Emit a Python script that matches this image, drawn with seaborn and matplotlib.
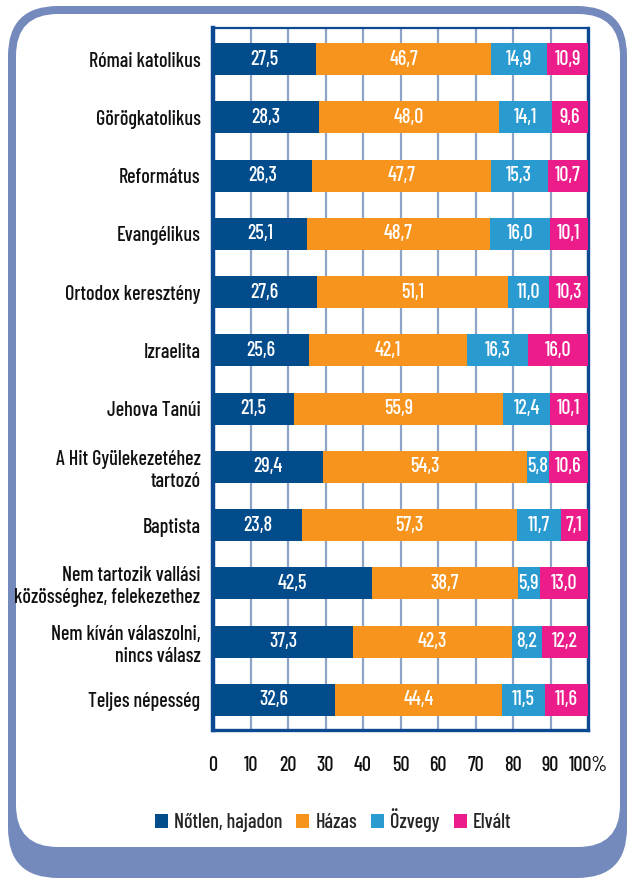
import matplotlib
matplotlib.use("Agg")
import matplotlib.pyplot as plt
from matplotlib.patches import FancyBboxPatch, Patch
import seaborn as sns
import numpy as np
import pandas as pd

categories = [
    "Római katolikus",
    "Görögkatolikus",
    "Református",
    "Evangélikus",
    "Ortodox keresztény",
    "Izraelita",
    "Jehova Tanúi",
    "A Hit Gyülekezetéhez\ntartozó",
    "Baptista",
    "Nem tartozik vallási\nközösséghez, felekezethez",
    "Nem kíván válaszolni,\nnincs válasz",
    "Teljes népesség",
]
notlen = [27.5, 28.3, 26.3, 25.1, 27.6, 25.6, 21.5, 29.4, 23.8, 42.5, 37.3, 32.6]
hazas = [46.7, 48.0, 47.7, 48.7, 51.1, 42.1, 55.9, 54.3, 57.3, 38.7, 42.3, 44.4]
ozvegy = [14.9, 14.1, 15.3, 16.0, 11.0, 16.3, 12.4, 5.8, 11.7, 5.9, 8.2, 11.5]
elvalt = [10.9, 9.6, 10.7, 10.1, 10.3, 16.0, 10.1, 10.6, 7.1, 13.0, 12.2, 11.6]
series_names = ["Nőtlen, hajadon", "Házas", "Özvegy", "Elvált"]
colors = ["#034C8C", "#F7941E", "#2A9BD0", "#EC1C8B"]
xticks = [0, 10, 20, 30, 40, 50, 60, 70, 80, 90, 100]
xticklabels = ["0", "10", "20", "30", "40", "50", "60", "70", "80", "90", "100%"]

sns.set_style("white")
FONT = ["Barlow Condensed", "DejaVu Sans"]
plt.rcParams["font.family"] = FONT
plt.rcParams["font.weight"] = 500
FS = 14.5

W, H = 629, 880
fig = plt.figure(figsize=(W / 100, H / 100), dpi=100)
fig.patch.set_facecolor("white")

# background panels (pixel -> inches)
outer = FancyBboxPatch((8 / 100, (H - 878) / 100), (627 - 8) / 100, (878 - 6) / 100,
                       boxstyle="round,pad=0,rounding_size=0.5",
                       transform=fig.dpi_scale_trans, facecolor="#7489BC",
                       edgecolor="none", zorder=-10)
inner = FancyBboxPatch((16 / 100, (H - 847) / 100), (620 - 16) / 100, (847 - 14) / 100,
                       boxstyle="round,pad=0,rounding_size=0.42",
                       transform=fig.dpi_scale_trans, facecolor="white",
                       edgecolor="none", zorder=-9)
fig.add_artist(outer)
fig.add_artist(inner)

ax = fig.add_axes([213 / W, 1 - 730 / H, (588 - 213) / W, (730 - 28) / H])
ax.patch.set_alpha(0)

series = [notlen, hazas, ozvegy, elvalt]
cum = np.cumsum(np.array(series), axis=0)
df = pd.DataFrame({"cat": categories})
for k in range(4):
    df[f"c{k}"] = cum[k]

# draw cumulative bars from largest to smallest
for k in range(3, -1, -1):
    sns.barplot(data=df, x=f"c{k}", y="cat", orient="y", color=colors[k],
                width=0.55, ax=ax, saturation=1, edgecolor="none", zorder=3)

# value labels
for i in range(len(categories)):
    start = 0.0
    for k in range(4):
        v = series[k][i]
        ax.text(start + v / 2, i, f"{v:.1f}".replace(".", ","), ha="center",
                va="center", color="white", fontsize=FS, zorder=5)
        start += v

ax.set_xlim(0, 100)
ax.set_ylim(11.515, -0.532)
ax.set_xlabel("")
ax.set_ylabel("")
ax.set_xticks(xticks)
ax.set_xticklabels(xticklabels, fontsize=FS, color="#111111")
ax.set_yticks(range(len(categories)))
ax.set_yticklabels(categories, fontsize=FS, color="#111111")
ax.tick_params(axis="y", length=0, pad=9)
ax.tick_params(axis="x", direction="out", length=9.5, width=2.6, color="#0B4A93", pad=9)
ax.xaxis.grid(True, color="#8DA3C7", linewidth=1.6, zorder=0)
ax.yaxis.grid(False)
ax.set_axisbelow(True)

dark = "#0B4A93"
ax.spines["left"].set_color(dark)
ax.spines["left"].set_linewidth(3.2)
ax.spines["right"].set_color(dark)
ax.spines["right"].set_linewidth(2.4)
ax.spines["top"].set_color(dark)
ax.spines["top"].set_linewidth(1.6)
ax.spines["bottom"].set_color(dark)
ax.spines["bottom"].set_linewidth(2.4)
for s in ax.spines.values():
    s.set_visible(True)

handles = [Patch(facecolor=c, edgecolor="none", label=n) for c, n in zip(colors, series_names)]
fig.legend(handles=handles, loc="center", bbox_to_anchor=(333 / W, 1 - 820 / H),
           ncol=4, frameon=False, fontsize=FS, handlelength=0.65, handleheight=0.65,
           handletextpad=0.3, columnspacing=0.7, borderaxespad=0)

fig.savefig("out.png", dpi=100)
